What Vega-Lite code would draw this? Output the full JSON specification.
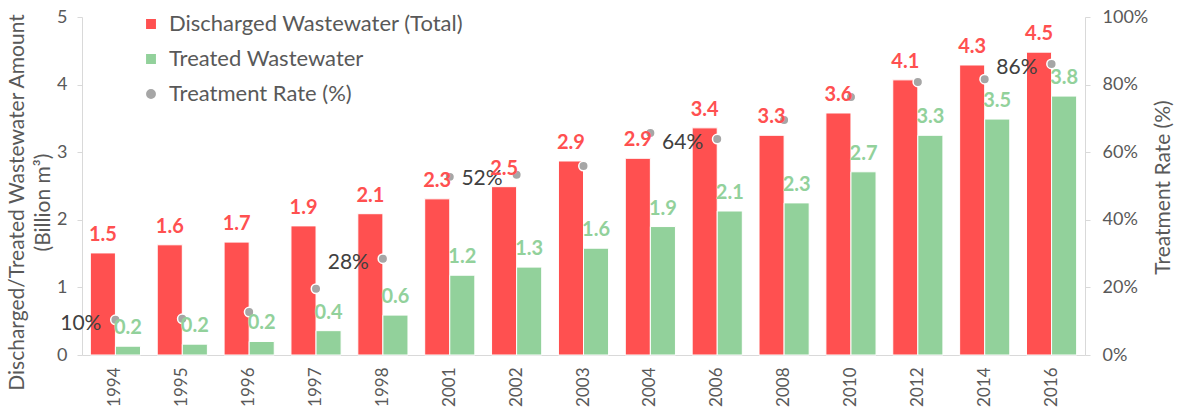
{
  "$schema": "https://vega.github.io/schema/vega-lite/v6.json",
  "width": 1003,
  "height": 338,
  "autosize": {"type": "none"},
  "padding": {"left": 82, "top": 17, "right": 96, "bottom": 55},
  "background": "white",
  "config": {
    "view": {"stroke": null},
    "font": "Lato",
    "axis": {"labelFont": "Lato", "titleFont": "Lato", "labelColor": "#595959", "titleColor": "#595959", "domainColor": "#D9D9D9", "tickColor": "#D9D9D9", "grid": false, "titleFontWeight": "normal"},
    "legend": {"labelFont": "Lato", "labelFontSize": 22, "labelColor": "#595959", "labelLimit": 500}
  },
  "datasets": {
    "bars": [
      {"year": "1994", "series": "Discharged Wastewater (Total)", "value": 1.51, "label": "1.5"},
      {"year": "1995", "series": "Discharged Wastewater (Total)", "value": 1.63, "label": "1.6"},
      {"year": "1996", "series": "Discharged Wastewater (Total)", "value": 1.67, "label": "1.7"},
      {"year": "1997", "series": "Discharged Wastewater (Total)", "value": 1.91, "label": "1.9"},
      {"year": "1998", "series": "Discharged Wastewater (Total)", "value": 2.09, "label": "2.1"},
      {"year": "2001", "series": "Discharged Wastewater (Total)", "value": 2.31, "label": "2.3"},
      {"year": "2002", "series": "Discharged Wastewater (Total)", "value": 2.49, "label": "2.5"},
      {"year": "2003", "series": "Discharged Wastewater (Total)", "value": 2.87, "label": "2.9"},
      {"year": "2004", "series": "Discharged Wastewater (Total)", "value": 2.91, "label": "2.9"},
      {"year": "2006", "series": "Discharged Wastewater (Total)", "value": 3.36, "label": "3.4"},
      {"year": "2008", "series": "Discharged Wastewater (Total)", "value": 3.25, "label": "3.3"},
      {"year": "2010", "series": "Discharged Wastewater (Total)", "value": 3.58, "label": "3.6"},
      {"year": "2012", "series": "Discharged Wastewater (Total)", "value": 4.07, "label": "4.1"},
      {"year": "2014", "series": "Discharged Wastewater (Total)", "value": 4.29, "label": "4.3"},
      {"year": "2016", "series": "Discharged Wastewater (Total)", "value": 4.48, "label": "4.5"},
      {"year": "1994", "series": "Treated Wastewater", "value": 0.13, "label": "0.2"},
      {"year": "1995", "series": "Treated Wastewater", "value": 0.16, "label": "0.2"},
      {"year": "1996", "series": "Treated Wastewater", "value": 0.2, "label": "0.2"},
      {"year": "1997", "series": "Treated Wastewater", "value": 0.36, "label": "0.4"},
      {"year": "1998", "series": "Treated Wastewater", "value": 0.59, "label": "0.6"},
      {"year": "2001", "series": "Treated Wastewater", "value": 1.18, "label": "1.2"},
      {"year": "2002", "series": "Treated Wastewater", "value": 1.3, "label": "1.3"},
      {"year": "2003", "series": "Treated Wastewater", "value": 1.58, "label": "1.6"},
      {"year": "2004", "series": "Treated Wastewater", "value": 1.9, "label": "1.9"},
      {"year": "2006", "series": "Treated Wastewater", "value": 2.13, "label": "2.1"},
      {"year": "2008", "series": "Treated Wastewater", "value": 2.25, "label": "2.3"},
      {"year": "2010", "series": "Treated Wastewater", "value": 2.71, "label": "2.7"},
      {"year": "2012", "series": "Treated Wastewater", "value": 3.25, "label": "3.3"},
      {"year": "2014", "series": "Treated Wastewater", "value": 3.49, "label": "3.5"},
      {"year": "2016", "series": "Treated Wastewater", "value": 3.83, "label": "3.8"}
    ],
    "rates": [
      {"year": "1994", "series": "Treatment Rate (%)", "rate": 10.4, "rlabel": "10%"},
      {"year": "1995", "series": "Treatment Rate (%)", "rate": 10.7, "rlabel": ""},
      {"year": "1996", "series": "Treatment Rate (%)", "rate": 12.7, "rlabel": ""},
      {"year": "1997", "series": "Treatment Rate (%)", "rate": 19.6, "rlabel": ""},
      {"year": "1998", "series": "Treatment Rate (%)", "rate": 28.5, "rlabel": "28%"},
      {"year": "2001", "series": "Treatment Rate (%)", "rate": 52.7, "rlabel": ""},
      {"year": "2002", "series": "Treatment Rate (%)", "rate": 53.3, "rlabel": "52%"},
      {"year": "2003", "series": "Treatment Rate (%)", "rate": 55.9, "rlabel": ""},
      {"year": "2004", "series": "Treatment Rate (%)", "rate": 65.7, "rlabel": ""},
      {"year": "2006", "series": "Treatment Rate (%)", "rate": 63.9, "rlabel": "64%"},
      {"year": "2008", "series": "Treatment Rate (%)", "rate": 69.5, "rlabel": ""},
      {"year": "2010", "series": "Treatment Rate (%)", "rate": 76.3, "rlabel": ""},
      {"year": "2012", "series": "Treatment Rate (%)", "rate": 80.8, "rlabel": ""},
      {"year": "2014", "series": "Treatment Rate (%)", "rate": 81.6, "rlabel": ""},
      {"year": "2016", "series": "Treatment Rate (%)", "rate": 86.1, "rlabel": "86%"}
    ]
  },
  "encoding": {
    "x": {
      "field": "year", "type": "nominal", "sort": null,
      "scale": {"paddingInner": 0.25, "paddingOuter": 0.125},
      "axis": {"title": null, "labelAngle": -90, "labelFontSize": 17, "labelPadding": 12, "ticks": false}
    }
  },
  "layer": [
    {
      "data": {"name": "bars"},
      "mark": {"type": "bar", "stroke": "white", "strokeWidth": 1},
      "encoding": {
        "xOffset": {"field": "series", "type": "nominal", "sort": null},
        "y": {
          "field": "value", "type": "quantitative",
          "scale": {"domain": [0, 5]},
          "axis": {"orient": "left", "values": [0, 1, 2, 3, 4, 5], "labelFontSize": 18, "tickSize": 5, "labelPadding": 10,
            "title": ["Discharged/Treated Wastewater Amount", "(Billion m³)"],
            "titleFontSize": 21, "titleLineHeight": 26, "titleX": -65, "titleY": 185, "titleBaseline": "middle", "titleAngle": -90}
        },
        "color": {
          "field": "series", "type": "nominal",
          "scale": {"domain": ["Discharged Wastewater (Total)", "Treated Wastewater", "Treatment Rate (%)"], "range": ["#FF5050", "#92D19B", "#A6A6A6"]},
          "legend": {"title": null, "orient": "none", "legendX": 58, "legendY": -4, "symbolSize": 130, "rowPadding": 13, "labelOffset": 7, "padding": 0}
        }
      }
    },
    {
      "data": {"name": "rates"},
      "mark": {"type": "point", "filled": true, "size": 90, "stroke": "white", "strokeWidth": 1.5, "opacity": 1},
      "encoding": {
        "y": {
          "field": "rate", "type": "quantitative",
          "scale": {"domain": [0, 100]},
          "axis": {"orient": "right", "values": [0, 20, 40, 60, 80, 100], "labelExpr": "datum.value + '%'", "labelFontSize": 18, "tickSize": 5, "labelPadding": 12,
            "title": "Treatment Rate (%)", "titleFontSize": 21, "titleX": 78, "titleY": 170, "titleBaseline": "middle", "titleAngle": -90}
        },
        "color": {"field": "series", "type": "nominal", "legend": {"title": null}},
        "shape": {
          "field": "series", "type": "nominal",
          "scale": {"domain": ["Discharged Wastewater (Total)", "Treated Wastewater", "Treatment Rate (%)"], "range": ["square", "square", "circle"]},
          "legend": {"title": null}
        }
      }
    },
    {
      "data": {"name": "rates"},
      "transform": [{"filter": "datum.rlabel != ''"}],
      "mark": {"type": "text", "align": "right", "baseline": "middle", "dx": -14, "dy": 4, "fontSize": 21, "color": "#404040"},
      "encoding": {
        "y": {"field": "rate", "type": "quantitative", "scale": {"domain": [0, 100]}, "axis": null},
        "text": {"field": "rlabel"}
      }
    },
    {
      "data": {"name": "bars"},
      "mark": {"type": "text", "align": "center", "baseline": "alphabetic", "dy": -12, "fontSize": 20, "fontWeight": "bold"},
      "encoding": {
        "xOffset": {"field": "series", "type": "nominal", "sort": null},
        "y": {"field": "value", "type": "quantitative", "scale": {"domain": [0, 5]}, "axis": null},
        "text": {"field": "label"},
        "color": {"field": "series", "type": "nominal", "legend": null}
      }
    }
  ],
  "resolve": {"scale": {"y": "independent"}}
}
